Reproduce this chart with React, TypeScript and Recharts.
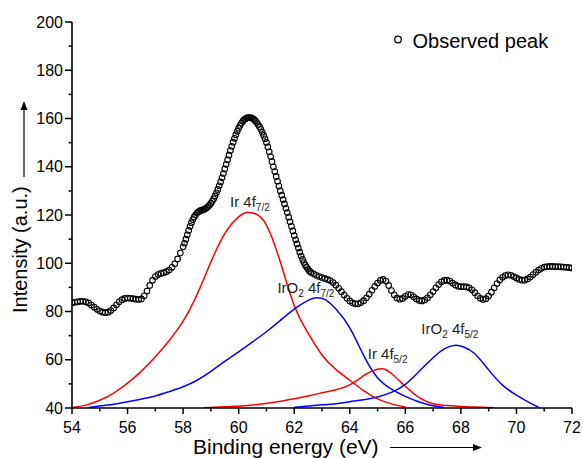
import React from "react";
import { ComposedChart, Line, XAxis, YAxis, ReferenceDot } from "recharts";

const FONT = "'Liberation Sans', Arial, Helvetica, sans-serif";

// tick positions (labels only on even energies / every 20 counts)
const energyTicks = [54, 55, 56, 57, 58, 59, 60, 61, 62, 63, 64, 65, 66, 67, 68, 69, 70, 71, 72];
const intensityTicks = [40, 50, 60, 70, 80, 90, 100, 110, 120, 130, 140, 150, 160, 170, 180, 190, 200];

// observed spectrum in three stretches
const obsLowStart = 54.0; // step 0.1
const obsLow = [
  83.6, 83.8, 84.0, 84.2, 84.2, 84.0, 83.5, 82.7, 81.8, 80.9,
  80.2, 79.7, 79.5, 79.7, 80.4, 81.5, 82.8, 84.0, 84.9, 85.4,
  85.6, 85.5, 85.3, 85.1, 85.0, 85.2, 86.5, 88.5, 90.8, 93.0,
  94.5, 95.3, 95.8, 96.1, 96.5, 97.2, 98.3, 99.8, 101.8, 104.2,
];
const obsPeakStart = 58.0; // step 0.05
const obsPeak = [
  106.8, 108.3, 110.0, 111.8, 113.6, 115.3, 116.8, 118.1, 119.2, 120.1,
  120.8, 121.3, 121.7, 121.9, 122.1, 122.3, 122.6, 123.0, 123.5, 124.1,
  124.8, 125.7, 126.7, 127.9, 129.2, 130.6, 132.1, 133.7, 135.4, 137.2,
  139.1, 141.0, 142.9, 144.8, 146.7, 148.5, 150.2, 151.8, 153.3, 154.7,
  156.0, 157.1, 158.1, 158.9, 159.5, 160.0, 160.3, 160.4, 160.4, 160.3,
  160.0, 159.6, 159.0, 158.3, 157.5, 156.6, 155.5, 154.3, 153.0, 151.6,
  150.1, 148.2, 146.2, 144.2, 142.1, 140.0, 138.0, 136.0, 134.0, 132.0,
  130.0, 128.2, 126.4, 124.6, 122.8, 121.0, 119.1, 117.2, 115.3, 113.4,
  111.5, 109.7, 108.0, 106.3, 104.6, 103.0, 101.6, 100.3, 99.2, 98.3,
  97.5, 96.8, 96.2,
];
const obsHighStart = 62.7; // step 0.1
const obsHigh = [
  95.6, 95.0, 94.5, 94.1, 93.7, 93.3, 92.8, 92.0, 90.9, 89.6,
  88.2, 86.8, 85.5, 84.4, 83.6, 83.2, 83.2, 83.7, 84.5, 85.7,
  87.2, 88.8, 90.4, 91.8, 92.9, 93.3, 92.6, 90.8, 88.7, 86.9,
  85.6, 85.1, 85.4, 86.3, 87.0, 86.9, 86.1, 85.2, 84.6, 84.4,
  84.8, 85.7, 86.9, 88.3, 89.8, 91.2, 92.3, 92.9, 93.0, 92.6,
  91.8, 91.0, 90.5, 90.3, 90.3, 90.2, 89.8, 89.0, 87.8, 86.5,
  85.5, 85.0, 85.3, 86.4, 88.0, 89.8, 91.6, 93.1, 94.2, 94.9,
  95.2, 95.0, 94.5, 93.9, 93.3, 93.0, 93.0, 93.5, 94.3, 95.3,
  96.3, 97.2, 97.9, 98.4, 98.6, 98.7, 98.7, 98.6, 98.6, 98.5,
  98.4, 98.3, 98.2, 98.0,
];

// fitted components [eV, intensity]
const ir4f72 = [
  [54, 40.2], [54.5, 41.2], [55, 43.2], [55.5, 46.2], [56, 50.3], [56.5, 55.3], [57, 61.2],
  [57.5, 68], [58, 76], [58.5, 87], [59, 100.5], [59.5, 112.3], [60, 119.2], [60.3, 121],
  [60.6, 120.5], [61, 115.8], [61.5, 100.5], [62, 82.5], [62.5, 71], [63, 62], [63.5, 56],
  [64, 51.5], [64.5, 47.2], [65, 43.8], [65.5, 41.7], [66, 40.4],
];
const irO2_4f72 = [
  [54.6, 40.2], [55, 40.8], [55.5, 41.6], [56, 42.6], [56.5, 43.7], [57, 45], [57.5, 46.8],
  [58, 48.8], [58.5, 51.5], [59, 55.2], [59.5, 59.3], [60, 63.3], [60.5, 67.4], [61, 71.6],
  [61.5, 76.3], [62, 81], [62.5, 84.6], [62.8, 85.7], [63.1, 85], [63.5, 81], [64, 73.2],
  [64.5, 61.8], [65, 52.5], [65.5, 47.8], [66, 44.8], [66.5, 42.5], [67, 40.9], [67.4, 40.2],
];
const ir4f52 = [
  [58.75, 40.1], [59.5, 40.5], [60.5, 41.2], [61.5, 42.8], [62, 43.8], [62.5, 45], [63, 46.3],
  [63.5, 47.6], [64, 49.6], [64.5, 53.4], [64.8, 55.3], [65.15, 56.3], [65.5, 54.3], [66, 49],
  [66.5, 44.3], [67, 41.8], [67.5, 41], [68, 40.6], [68.5, 40.4], [69.2, 40.1],
];
const irO2_4f52 = [
  [62, 40.3], [62.5, 40.8], [63, 41.3], [63.5, 41.8], [64, 42.6], [64.5, 43.4], [65, 44.6],
  [65.5, 46.5], [66, 49.8], [66.5, 55.2], [67, 60.8], [67.4, 64.5], [67.8, 66], [68.1, 65.3],
  [68.5, 62.5], [69, 55.8], [69.5, 49.5], [70, 45.3], [70.5, 42], [70.8, 40.3],
];

const run = (start: number, step: number, vals: number[]) =>
  vals.map((y, i) => ({ x: +(start + i * step).toFixed(2), y }));
const pairs = (arr: number[][]) => arr.map(([x, y]) => ({ x, y }));

const observed = [
  ...run(obsLowStart, 0.1, obsLow),
  ...run(obsPeakStart, 0.05, obsPeak),
  ...run(obsHighStart, 0.1, obsHigh),
];

const XTick = (props: any) => {
  const { x, y, payload } = props;
  const major = payload.value % 2 === 0;
  return (
    <g>
      <line x1={x} x2={x} y1={y} y2={y + (major ? 6 : 3.5)} stroke="#000" strokeWidth={1.5} />
      {major && (
        <text x={x} y={y + 25} textAnchor="middle" fontSize={16} fontFamily={FONT} fill="#000">
          {payload.value}
        </text>
      )}
    </g>
  );
};

const YTick = (props: any) => {
  const { x, y, payload } = props;
  const major = payload.value % 20 === 0;
  return (
    <g>
      <line x1={x} x2={x - (major ? 7 : 3.5)} y1={y} y2={y} stroke="#000" strokeWidth={1.5} />
      {major && (
        <text x={x - 9} y={y + 5.6} textAnchor="end" fontSize={16} fontFamily={FONT} fill="#000">
          {payload.value}
        </text>
      )}
    </g>
  );
};

const peakLabel = (oxide: boolean, sub: string, dx: number, dy: number) => (p: any) => {
  const vb = p.viewBox || {};
  const x = (vb.x ?? 0) + (vb.width ?? 0) / 2 + dx;
  const y = (vb.y ?? 0) + (vb.height ?? 0) / 2 + dy;
  return (
    <text x={x} y={y} fontSize={15} fontFamily={FONT} fill="#222">
      {oxide ? (
        <>
          IrO<tspan fontSize={10} dy={4}>2</tspan>
          <tspan fontSize={15} dy={-4}> 4f</tspan>
        </>
      ) : (
        "Ir 4f"
      )}
      <tspan fontSize={10} dy={4}>{sub}</tspan>
    </text>
  );
};

const fitted = [
  { id: "ir72", data: ir4f72, color: "#ff0000" },
  { id: "ox72", data: irO2_4f72, color: "#0000ff" },
  { id: "ir52", data: ir4f52, color: "#ff0000" },
  { id: "ox52", data: irO2_4f52, color: "#0000ff" },
];

export default function App() {
  return (
    <div style={{ position: "absolute", left: 0, top: 0, width: 583, height: 458, background: "#fff" }}>
      <ComposedChart width={583} height={458} margin={{ top: 22, right: 11, left: 12, bottom: 0 }}>
        <XAxis
          type="number"
          dataKey="x"
          domain={[54, 72]}
          ticks={energyTicks}
          interval={0}
          allowDataOverflow
          height={50}
          tickSize={0}
          tickMargin={0}
          tickLine={false}
          axisLine={{ stroke: "#000", strokeWidth: 1.6 }}
          tick={<XTick />}
        />
        <YAxis
          type="number"
          dataKey="y"
          domain={[40, 200]}
          ticks={intensityTicks}
          interval={0}
          allowDataOverflow
          width={60}
          tickSize={0}
          tickMargin={0}
          tickLine={false}
          axisLine={{ stroke: "#000", strokeWidth: 1.6 }}
          tick={<YTick />}
        />
        {fitted.map((f) => (
          <Line
            key={f.id}
            data={pairs(f.data)}
            dataKey="y"
            type="natural"
            stroke={f.color}
            strokeWidth={1.5}
            dot={false}
            isAnimationActive={false}
          />
        ))}
        <Line
          data={observed}
          dataKey="y"
          stroke="none"
          dot={{ r: 2.8, fill: "none", stroke: "#000", strokeWidth: 1.1 }}
          isAnimationActive={false}
        />
        <ReferenceDot x={60.3} y={121} r={0} fill="none" stroke="none" label={{ content: peakLabel(false, "7/2", -17, -6) }} />
        <ReferenceDot x={62.8} y={85.7} r={0} fill="none" stroke="none" label={{ content: peakLabel(true, "7/2", -39, -4.5) }} />
        <ReferenceDot x={65.15} y={56.3} r={0} fill="none" stroke="none" label={{ content: peakLabel(false, "5/2", -14, -10) }} />
        <ReferenceDot x={67.8} y={66} r={0} fill="none" stroke="none" label={{ content: peakLabel(true, "5/2", -34, -11) }} />
      </ComposedChart>
      <svg width={583} height={458} style={{ position: "absolute", left: 0, top: 0, pointerEvents: "none" }}>
        <circle cx={398} cy={39.5} r={3.3} fill="none" stroke="#000" strokeWidth={1.3} />
        <text x={412.5} y={47.5} fontSize={20} fontFamily={FONT} fill="#000">Observed peak</text>
        <text x={193} y={454} fontSize={21} fontFamily={FONT} fill="#000">Binding energy (eV)</text>
        <line x1={390} y1={447.5} x2={474} y2={447.5} stroke="#000" strokeWidth={1.2} />
        <path d="M482,447.5 L473,444 L473,451 Z" fill="#000" />
        <text transform="translate(27,313) rotate(-90)" fontSize={20} fontFamily={FONT} fill="#000">Intensity (a.u.)</text>
        <line x1={24} y1={177} x2={24} y2={109} stroke="#000" strokeWidth={1.2} />
        <path d="M24,101 L20.5,110 L27.5,110 Z" fill="#000" />
      </svg>
    </div>
  );
}
